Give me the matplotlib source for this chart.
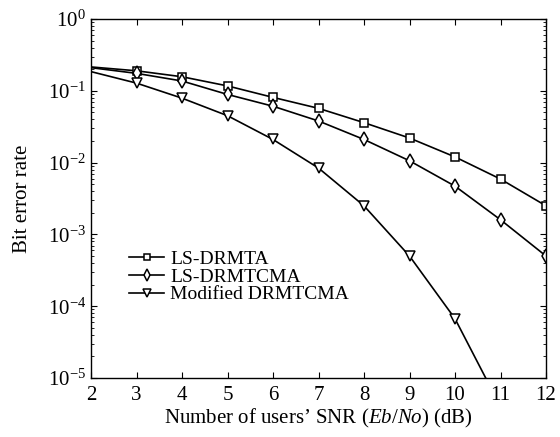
import numpy as np
import matplotlib
matplotlib.use('Agg')
import matplotlib.pyplot as plt

plt.rcParams['font.family'] = 'Liberation Serif'
plt.rcParams['mathtext.fontset'] = 'custom'
plt.rcParams['mathtext.rm'] = 'Liberation Serif'
plt.rcParams['mathtext.it'] = 'Liberation Serif:italic'

snr = [2, 3, 4, 5, 6, 7, 8, 9, 10, 11, 12]
ber_ls_drmta = [0.215, 0.19, 0.157, 0.117, 0.081, 0.057, 0.036, 0.022, 0.012, 0.0059, 0.0025]
ber_ls_drmtcma = [0.21, 0.175, 0.137, 0.089, 0.061, 0.038, 0.021, 0.0106, 0.0047, 0.0016, 0.0005]
ber_modified = [0.185, 0.128, 0.079, 0.045, 0.021, 0.0084, 0.0025, 0.0005, 6.7e-5, 4e-6, 1e-7]

fig = plt.figure(figsize=(5.6, 4.37), dpi=100)
ax = fig.add_axes([0.1625, 0.135, 0.8125, 0.8215])

style = dict(color='black', lw=1.2, markerfacecolor='white', markeredgecolor='black',
             markeredgewidth=1.1, markevery=slice(1, None))
ax.plot(snr, ber_ls_drmta, marker='s', ms=6, label='LS-DRMTA', **style)
ax.plot(snr, ber_ls_drmtcma, marker='d', ms=7.5, label='LS-DRMTCMA', **style)
ax.plot(snr, ber_modified, marker='v', ms=7, label='Modified DRMTCMA', **style)

ax.set_yscale('log')
ax.set_xlim(2, 12)
ax.set_ylim(1e-5, 1)
ax.set_xticks(range(2, 13))
ax.set_yticks([1e-5, 1e-4, 1e-3, 1e-2, 1e-1, 1])
ax.tick_params(which='both', direction='in', top=True, right=True, labelsize=15)
ax.tick_params(which='major', length=4)
ax.tick_params(which='minor', length=2)
ax.tick_params(axis='x', pad=6)
for s in ax.spines.values():
    s.set_linewidth(1.0)

ax.set_xlabel("Number of users\u2019 SNR ($Eb/No$) (dB)", fontsize=15)
ax.set_ylabel('Bit error rate', fontsize=15)
ax.xaxis.set_label_coords(0.5, -0.082)
ax.yaxis.set_label_coords(-0.13, 0.5)

ax.legend(loc='upper left', bbox_to_anchor=(0.084, 0.355), frameon=False, fontsize=14,
          labelspacing=0.0, handlelength=1.8, handletextpad=0.3, borderpad=0,
          borderaxespad=0, markerscale=0.75)

fig.savefig('out.png', dpi=100)
